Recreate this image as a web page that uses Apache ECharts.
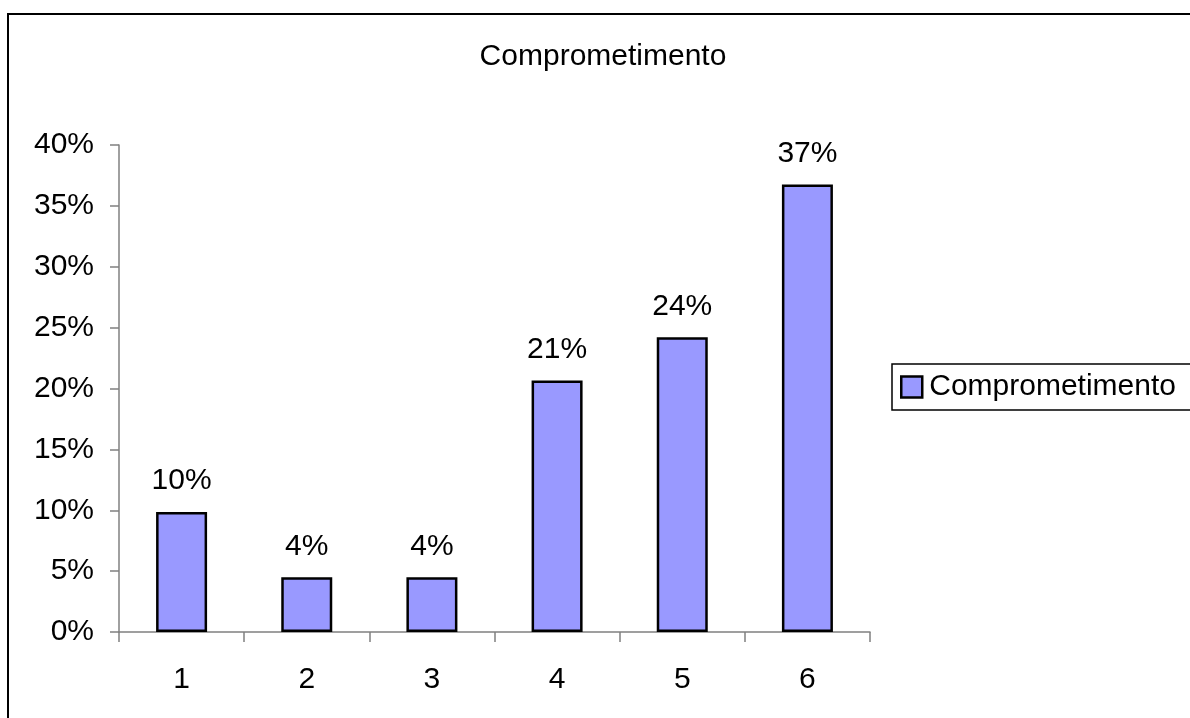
<!DOCTYPE html>
<html>
<head>
<meta charset="utf-8">
<title>Comprometimento</title>
<script src="https://cdn.jsdelivr.net/npm/echarts@6/dist/echarts.min.js"></script>
<style>
  html, body { margin: 0; padding: 0; background: #fff; }
  #chart { width: 1190px; height: 718px; }
</style>
</head>
<body>
<div id="chart"></div>
<script>
// Categories along the x axis and the share for each one
const categories = ['1', '2', '3', '4', '5', '6'];
const shares = [0.0985, 0.0449, 0.0449, 0.2066, 0.2421, 0.3676];
const seriesName = 'Comprometimento';

const FONT = '"Liberation Sans", Arial, sans-serif';
const pct = v => Math.round(v * 100) + '%';

const chart = echarts.init(document.getElementById('chart'), null, { renderer: 'canvas' });

chart.setOption({
  backgroundColor: '#ffffff',
  animation: false,
  title: {
    text: 'Comprometimento',
    left: 603,
    textAlign: 'center',
    top: 42,
    padding: 0,
    textStyle: { fontFamily: FONT, fontSize: 30, fontWeight: 'normal', color: '#000' }
  },
  legend: {
    data: [seriesName],
    left: 892,
    top: 364,
    orient: 'vertical',
    padding: [8, 30, 8, 8],
    itemWidth: 21,
    itemHeight: 21,
    borderColor: '#000',
    borderWidth: 1.5,
    borderRadius: 0,
    icon: 'rect',
    itemStyle: { color: '#9999FF', borderColor: '#000', borderWidth: 2.5 },
    textStyle: { fontFamily: FONT, fontSize: 30, color: '#000', padding: [0, 0, 0, 2] }
  },
  grid: {
    left: 119,
    right: 320,
    top: 145,
    bottom: 86,
    containLabel: false
  },
  xAxis: {
    type: 'category',
    data: categories,
    boundaryGap: true,
    axisLine: { lineStyle: { color: '#808080', width: 1.5 } },
    axisTick: { show: true, length: 10, lineStyle: { color: '#808080', width: 1.5 } },
    axisLabel: { margin: 33, fontFamily: FONT, fontSize: 30, color: '#000' },
    splitLine: { show: false }
  },
  yAxis: {
    type: 'value',
    min: 0,
    max: 0.4,
    interval: 0.05,
    axisLine: { show: true, lineStyle: { color: '#808080', width: 1.5 } },
    axisTick: { show: true, length: 9, lineStyle: { color: '#808080', width: 1.5 } },
    axisLabel: { margin: 25, fontFamily: FONT, fontSize: 30, color: '#000', formatter: pct },
    splitLine: { show: false }
  },
  series: [{
    name: seriesName,
    type: 'bar',
    data: shares,
    barWidth: 51,
    itemStyle: { color: '#9999FF', borderColor: '#000', borderWidth: 2.5 },
    label: {
      show: true,
      position: 'top',
      distance: 16,
      formatter: p => pct(p.value),
      fontFamily: FONT,
      fontSize: 30,
      color: '#000'
    }
  }],
  graphic: [{
    type: 'rect',
    shape: { x: 8, y: 14, width: 1200, height: 720 },
    style: { fill: 'none', stroke: '#000', lineWidth: 2 },
    silent: true
  }]
});
</script>
</body>
</html>
